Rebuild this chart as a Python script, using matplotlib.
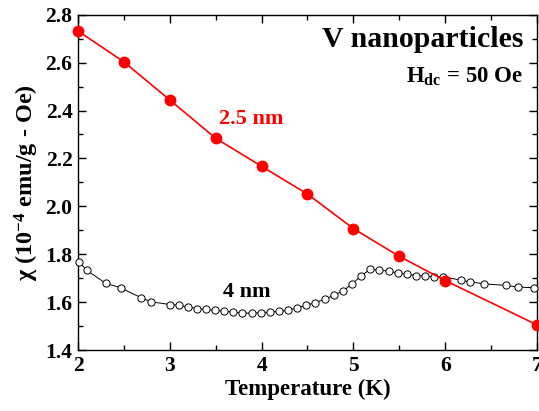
import numpy as np
import matplotlib
matplotlib.use('Agg')
import matplotlib.pyplot as plt
from matplotlib.ticker import MultipleLocator

plt.rcParams['font.family'] = ['Liberation Serif', 'DejaVu Serif']
plt.rcParams['font.weight'] = 'bold'
plt.rcParams['mathtext.fontset'] = 'custom'
plt.rcParams['mathtext.rm'] = 'Liberation Serif:bold'
plt.rcParams['mathtext.it'] = 'Liberation Serif:bold'
plt.rcParams['mathtext.bf'] = 'Liberation Serif:bold'

# 2.5 nm particles (filled red)
T_small = [2.0, 2.5, 3.0, 3.5, 4.0, 4.5, 5.0, 5.5, 6.0, 7.0]
chi_small = [2.732, 2.603, 2.444, 2.284, 2.167, 2.051, 1.907, 1.791, 1.690, 1.505]

# 4 nm particles (open black)
T_big = [2.015, 2.094, 2.304, 2.464, 2.688, 2.80, 3.0, 3.098, 3.196, 3.293,
         3.391, 3.493, 3.591, 3.692, 3.79, 3.891, 3.989, 4.09, 4.188, 4.29,
         4.388, 4.489, 4.587, 4.688, 4.786, 4.888, 4.986, 5.087, 5.185, 5.283,
         5.384, 5.486, 5.584, 5.681, 5.783, 5.88, 5.981, 6.177, 6.268, 6.424,
         6.66, 6.79, 6.967]
chi_big = [1.767, 1.733, 1.678, 1.660, 1.618, 1.601, 1.590, 1.587, 1.580, 1.573,
           1.570, 1.565, 1.562, 1.558, 1.555, 1.553, 1.556, 1.558, 1.561, 1.566,
           1.576, 1.587, 1.598, 1.612, 1.628, 1.647, 1.676, 1.711, 1.737, 1.733,
           1.730, 1.721, 1.717, 1.711, 1.709, 1.706, 1.706, 1.691, 1.685, 1.676,
           1.670, 1.663, 1.660]

fig = plt.figure(figsize=(5.39, 4.11), dpi=100)
ax = fig.add_axes([0.1447, 0.1484, 0.8516, 0.8158])

ax.plot(T_big, chi_big, '-o', color='black', lw=0.7, ms=5.2,
        mfc='white', mec='black', mew=0.7, clip_on=False, zorder=3)
ax.plot(T_small, chi_small, '-o', color='red', lw=1.2, ms=7.5,
        mfc='red', mec='red', clip_on=False, zorder=4)

ax.set_xlim(2, 7)
ax.set_ylim(1.4, 2.8)
ax.xaxis.set_major_locator(MultipleLocator(1))
ax.xaxis.set_minor_locator(MultipleLocator(0.5))
ax.yaxis.set_major_locator(MultipleLocator(0.2))
ax.yaxis.set_minor_locator(MultipleLocator(0.1))
ax.yaxis.set_major_formatter(matplotlib.ticker.FormatStrFormatter('%.1f'))
ax.tick_params(which='both', direction='in', top=True, right=True, labelsize=15.5)
ax.tick_params(which='major', length=6, width=1)
ax.tick_params(which='minor', length=3.5, width=1)
ax.tick_params(axis='x', pad=4)
ax.tick_params(axis='y', pad=4)
for s in ax.spines.values():
    s.set_linewidth(1)

ax.set_xlabel('Temperature (K)', fontsize=16.5, fontweight='bold', labelpad=2)
ax.set_ylabel(r'χ (10$^{-4}$ emu/g - Oe)', fontsize=17.5, fontweight='bold', labelpad=3)

ax.text(6.85, 2.695, 'V nanoparticles', fontsize=21.5, fontweight='bold',
        ha='right', va='center')
ax.text(6.85, 2.54, r'H$_{\mathbf{dc}}$ = 50 Oe', fontsize=16.5, fontweight='bold',
        ha='right', va='center')
ax.text(3.89, 2.365, '2.5 nm', fontsize=16, fontweight='bold', color='red',
        ha='center', va='center')
ax.text(3.84, 1.642, '4 nm', fontsize=16, fontweight='bold', color='black',
        ha='center', va='center')

fig.savefig('out.png', dpi=100)
